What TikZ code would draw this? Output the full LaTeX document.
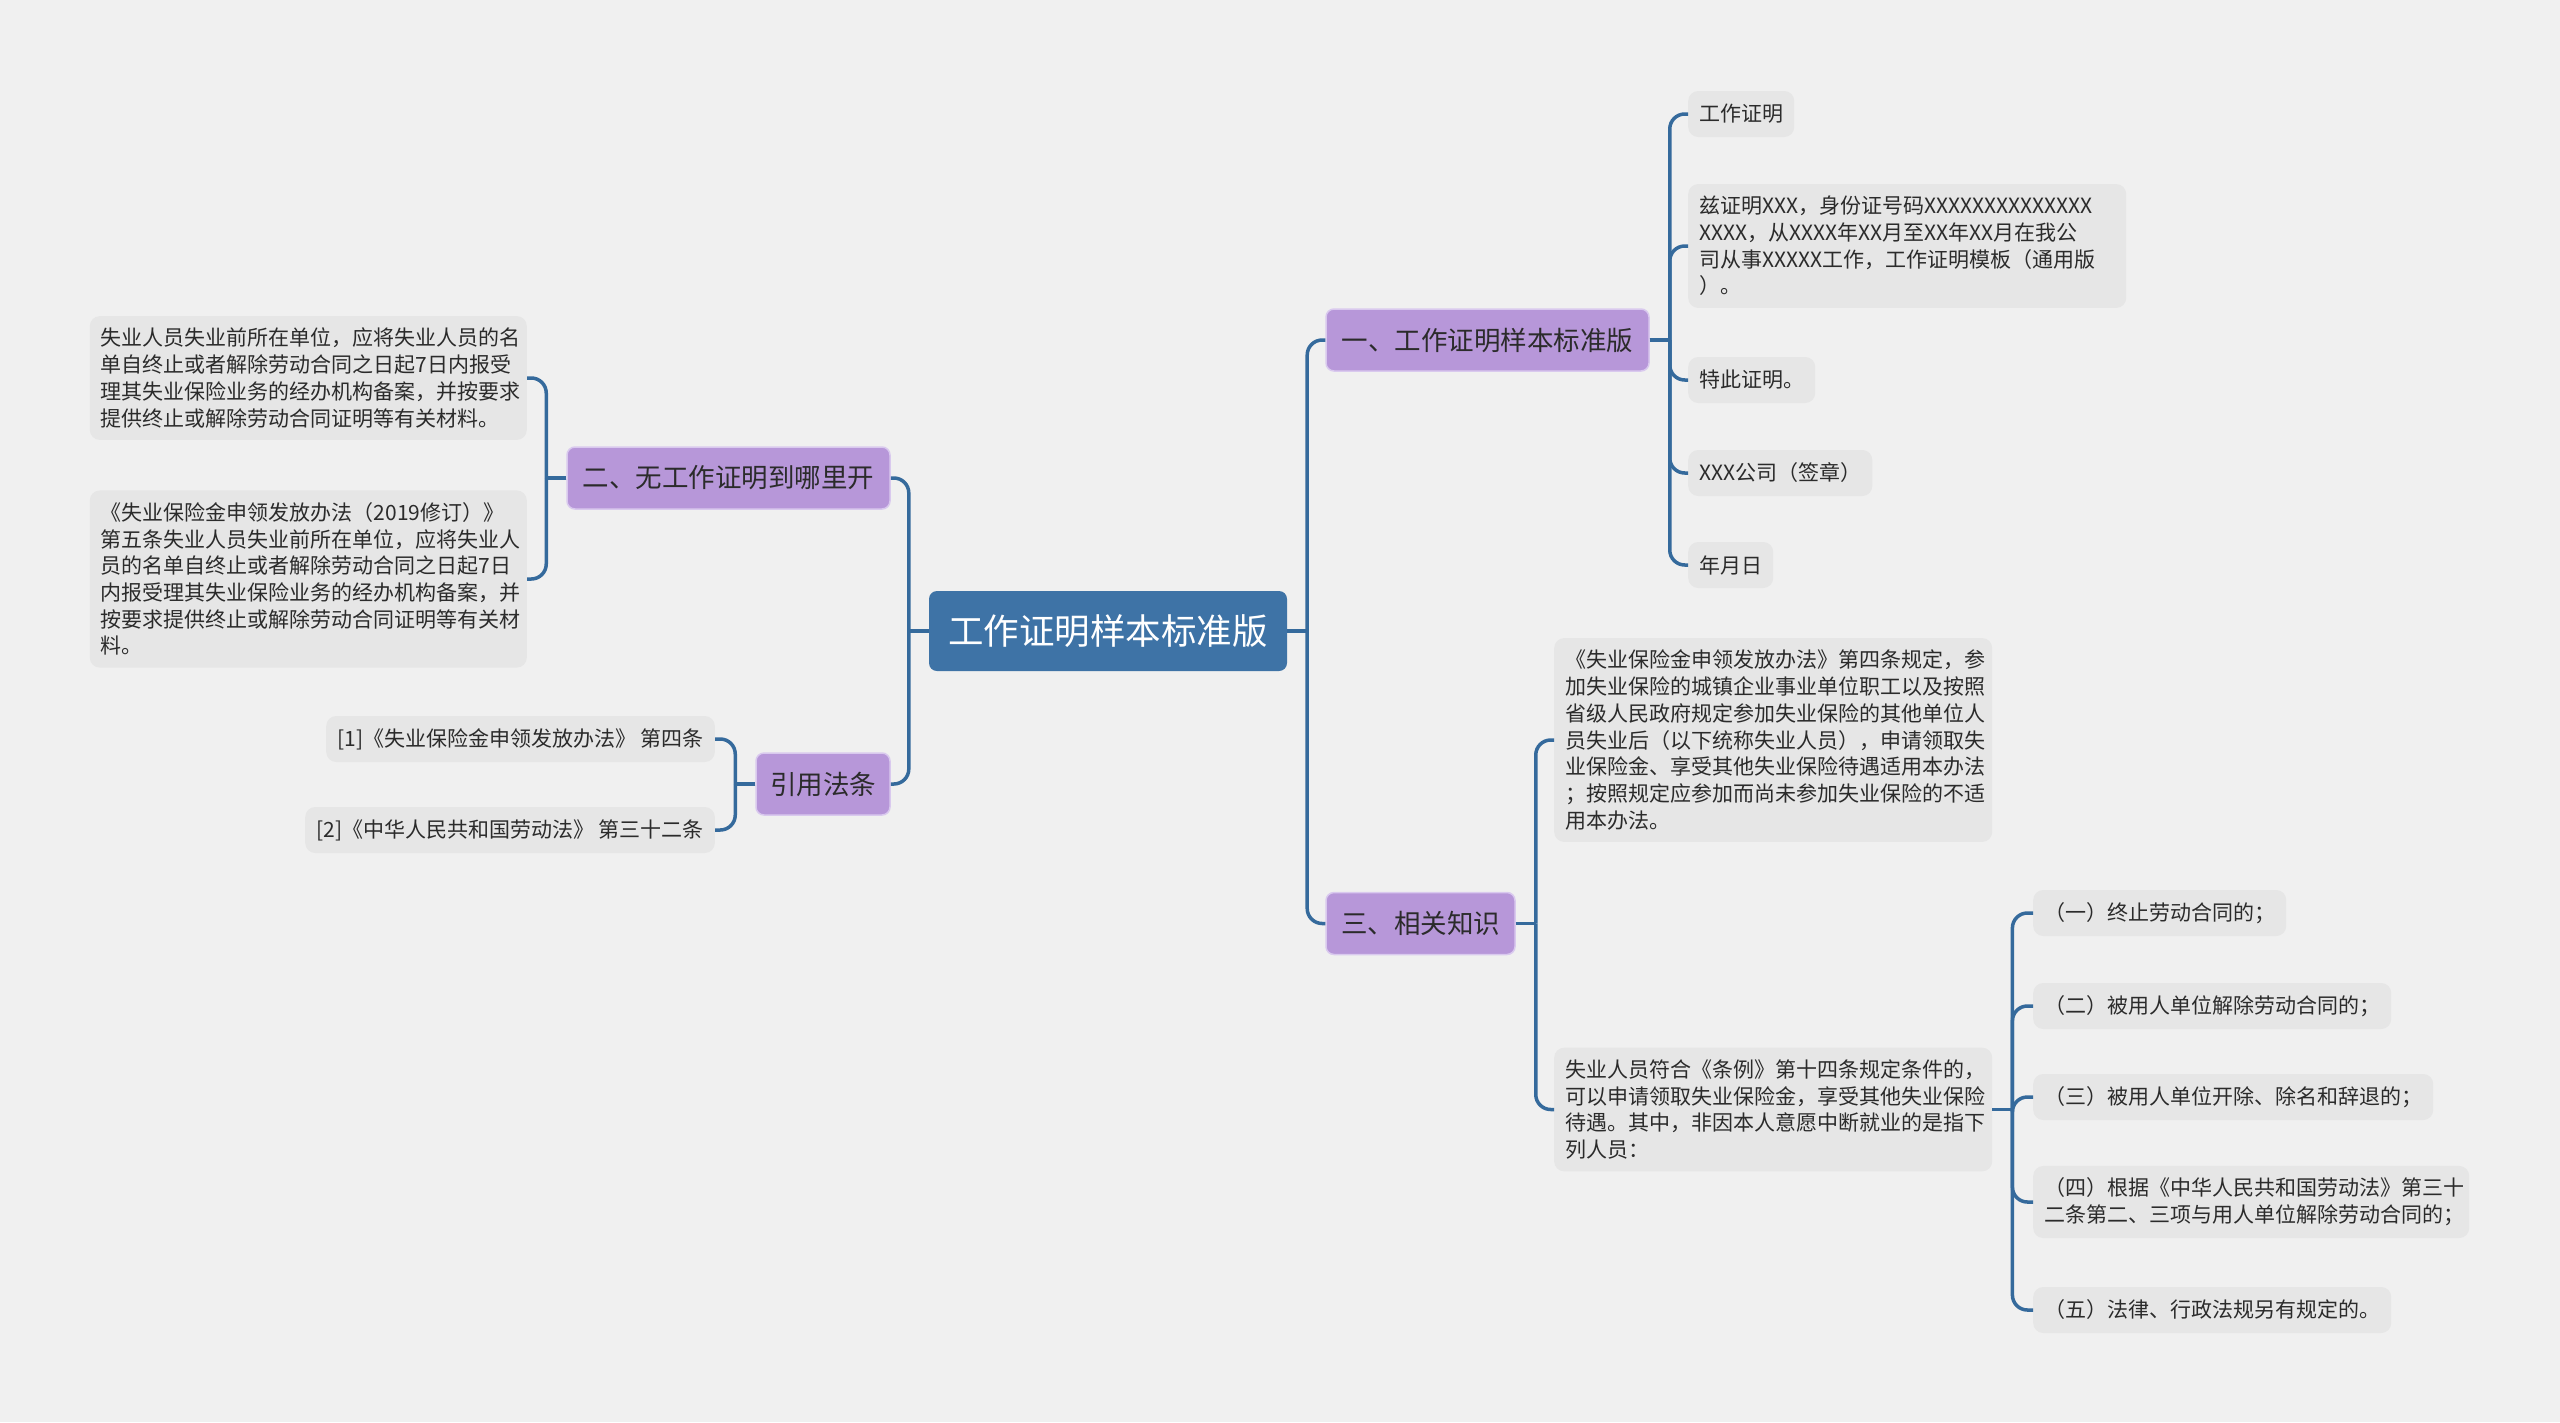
\documentclass[tikz,border=0pt]{standalone}
\usepackage{fontspec}
\setmainfont{Noto Sans CJK SC}
\definecolor{bgc}{HTML}{F0F0F0}
\definecolor{rootc}{HTML}{3E73A6}
\definecolor{purp}{HTML}{B797D9}
\definecolor{purpb}{HTML}{D9C9EE}
\definecolor{leafc}{HTML}{E6E6E6}
\definecolor{txt}{HTML}{2B2B2B}
\definecolor{linec}{HTML}{356A9C}
\newcommand{\linkR}[2]{\draw[conn] (#1.east) -- ++(20,0); \draw[conn,rounded corners=15pt] ([xshift=20pt]#1.east) |- (#2.west);}
\newcommand{\linkL}[2]{\draw[conn] (#1.west) -- ++(-20,0); \draw[conn,rounded corners=15pt] ([xshift=-20pt]#1.west) |- (#2.east);}
\begin{document}
\begin{tikzpicture}[x=1pt,y=-1pt,
  rootbox/.style={fill=rootc, rounded corners=8pt, text=white, font=\fontsize{35.5}{40}\selectfont, minimum width=358pt, minimum height=80pt, inner sep=0pt},
  lone/.style={fill=purp, draw=purpb, line width=1.5pt, rounded corners=8pt, text=txt, font=\fontsize{26.5}{32}\selectfont, minimum height=62pt, inner sep=0pt},
  leaf/.style={fill=leafc, rounded corners=10pt, text=txt, font=\fontsize{21}{26.7}\selectfont, inner xsep=11pt, inner ysep=12pt, align=left},
  single/.style={minimum height=46pt, inner ysep=0pt},
  conn/.style={draw=linec, line width=3.5pt}]
\fill[bgc] (0,0) rectangle (2560,1422);
\useasboundingbox (0,0) rectangle (2560,1422);

\node[rootbox] (root) at (1108,631) {工作证明样本标准版};
\node[lone, minimum width=323pt] (n1) at (1487.5,340) {一、工作证明样本标准版};
\node[lone, minimum width=189pt] (n3) at (1420.5,923.5) {三、相关知识};
\node[lone, minimum width=323pt] (n2) at (728.5,478) {二、无工作证明到哪里开};
\node[lone, minimum width=134pt] (n4) at (823,784) {引用法条};

\node[leaf,single,anchor=west] (a1) at (1688,114) {工作证明};
\node[leaf,anchor=west,text width=416pt] (a2) at (1688,246) {兹证明XXX，身份证号码XXXXXXXXXXXXXX\\XXXX，从XXXX年XX月至XX年XX月在我公\\司从事XXXXX工作，工作证明模板（通用版\\）。};
\node[leaf,single,anchor=west] (a3) at (1688,380) {特此证明。};
\node[leaf,single,anchor=west] (a4) at (1688,473) {XXX公司（签章）};
\node[leaf,single,anchor=west] (a5) at (1688,565) {年月日};

\node[leaf,anchor=west,text width=416pt] (b1) at (1554,740) {《失业保险金申领发放办法》第四条规定，参\\加失业保险的城镇企业事业单位职工以及按照\\省级人民政府规定参加失业保险的其他单位人\\员失业后（以下统称失业人员），申请领取失\\业保险金、享受其他失业保险待遇适用本办法\\；按照规定应参加而尚未参加失业保险的不适\\用本办法。};
\node[leaf,anchor=west,text width=416pt] (b2) at (1554,1109.5) {失业人员符合《条例》第十四条规定条件的，\\可以申请领取失业保险金，享受其他失业保险\\待遇。其中，非因本人意愿中断就业的是指下\\列人员：};

\node[leaf,single,anchor=west] (c1) at (2033,913) {（一）终止劳动合同的；};
\node[leaf,single,anchor=west] (c2) at (2033,1006) {（二）被用人单位解除劳动合同的；};
\node[leaf,single,anchor=west] (c3) at (2033,1097) {（三）被用人单位开除、除名和辞退的；};
\node[leaf,anchor=west,text width=414pt] (c4) at (2033,1202) {（四）根据《中华人民共和国劳动法》第三十\\二条第二、三项与用人单位解除劳动合同的；};
\node[leaf,single,anchor=west] (c5) at (2033,1310) {（五）法律、行政法规另有规定的。};

\node[leaf,anchor=east,text width=415pt] (d1) at (527,378) {失业人员失业前所在单位，应将失业人员的名\\单自终止或者解除劳动合同之日起7日内报受\\理其失业保险业务的经办机构备案，并按要求\\提供终止或解除劳动合同证明等有关材料。};
\node[leaf,anchor=east,text width=415pt] (d2) at (527,579) {《失业保险金申领发放办法（2019修订）》\\第五条失业人员失业前所在单位，应将失业人\\员的名单自终止或者解除劳动合同之日起7日\\内报受理其失业保险业务的经办机构备案，并\\按要求提供终止或解除劳动合同证明等有关材\\料。};
\node[leaf,single,anchor=east] (e1) at (715,739) {[1]《失业保险金申领发放办法》 第四条};
\node[leaf,single,anchor=east] (e2) at (715,830) {[2]《中华人民共和国劳动法》 第三十二条};

\linkR{root}{n1} \linkR{root}{n3}
\linkL{root}{n2} \linkL{root}{n4}
\linkR{n1}{a1} \linkR{n1}{a2} \linkR{n1}{a3} \linkR{n1}{a4} \linkR{n1}{a5}
\linkR{n3}{b1} \linkR{n3}{b2}
\linkR{b2}{c1} \linkR{b2}{c2} \linkR{b2}{c3} \linkR{b2}{c4} \linkR{b2}{c5}
\linkL{n2}{d1} \linkL{n2}{d2}
\linkL{n4}{e1} \linkL{n4}{e2}
\end{tikzpicture}
\end{document}
